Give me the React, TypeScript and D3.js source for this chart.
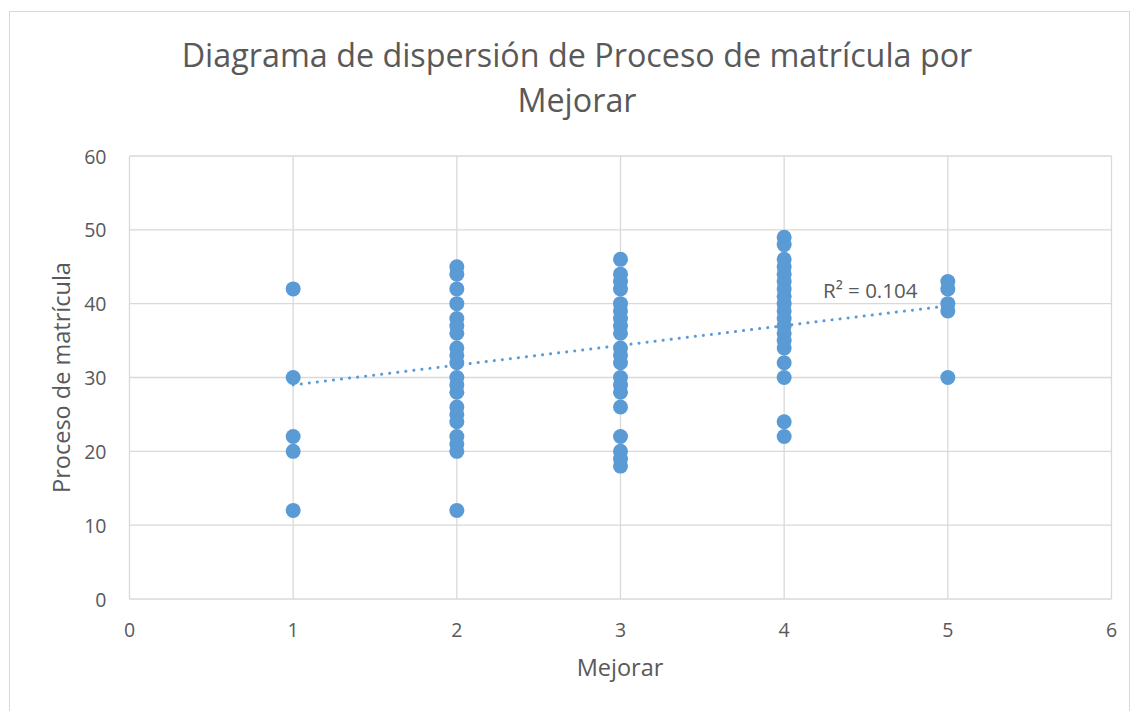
import React from "react";
import * as d3 from "d3";

const xValues = [1, 2, 3, 4, 5];
const series: number[][] = [
  [42, 30, 22, 20, 12],
  [45, 44, 42, 40, 38, 37, 36, 34, 33, 32, 30, 29, 28, 26, 25, 24, 22, 21, 20, 12],
  [46, 44, 43, 42, 40, 39, 38, 37, 36, 34, 33, 32, 30, 29, 28, 26, 22, 20, 19, 18],
  [49, 48, 46, 45, 44, 43, 42, 41, 40, 39, 38, 37, 36, 35, 34, 32, 30, 24, 22],
  [43, 42, 40, 39, 30],
];
const xTicks = [0, 1, 2, 3, 4, 5, 6];
const yTicks = [0, 10, 20, 30, 40, 50, 60];
const trendStart = { x: 1, y: 29.0 };
const trendEnd = { x: 5, y: 39.7 };
const rSquaredLabel = "R² = 0.104";
const titleLines = ["Diagrama de dispersión de Proceso de matrícula por", "Mejorar"];
const xTitle = "Mejorar";
const yTitle = "Proceso de matrícula";

export default function App() {
  const W = 1134, H = 711;
  const x = d3.scaleLinear().domain([0, 6]).range([129.5, 1111.5]);
  const y = d3.scaleLinear().domain([0, 60]).range([599, 156]);
  const color = "#5B9BD5";
  const font = "'Open Sans', sans-serif";
  const points = series.flatMap((vals, i) => vals.map((v) => ({ x: xValues[i], y: v })));
  const line = d3.line<{ x: number; y: number }>().x((d) => x(d.x)).y((d) => y(d.y));
  return (
    <svg width={W} height={H} style={{ position: "absolute", left: 0, top: 0 }} fontFamily={font}>
      <rect x={0} y={0} width={W} height={H} fill="#fff" />
      <rect x={9.5} y={11.5} width={1120} height={710} fill="#fff" stroke="#d9d9d9" strokeWidth={1} />
      {titleLines.map((t, i) => (
        <text key={i} x={577} y={67 + i * 45} textAnchor="middle" fontSize={32.3} fill="#595959">
          {t}
        </text>
      ))}
      {yTicks.map((t) => (
        <line key={"gy" + t} x1={x(0)} x2={x(6)} y1={y(t)} y2={y(t)} stroke="#d9d9d9" strokeWidth={1.3} />
      ))}
      {xTicks.map((t) => (
        <line key={"gx" + t} x1={x(t)} x2={x(t)} y1={y(0)} y2={y(60)} stroke="#d9d9d9" strokeWidth={1.3} />
      ))}
      {yTicks.map((t) => (
        <text key={"ty" + t} x={x(0) - 23} y={y(t) + 7.5} textAnchor="end" fontSize={19.5} fill="#595959">
          {t}
        </text>
      ))}
      {xTicks.map((t) => (
        <text key={"tx" + t} x={x(t)} y={637} textAnchor="middle" fontSize={19.5} fill="#595959">
          {t}
        </text>
      ))}
      <text x={620} y={676} textAnchor="middle" fontSize={23.5} fill="#595959">
        {xTitle}
      </text>
      <text transform={`translate(70,${y(30)}) rotate(-90)`} textAnchor="middle" fontSize={23.5} fill="#595959">
        {yTitle}
      </text>
      {points.map((p, i) => (
        <circle key={i} cx={x(p.x)} cy={y(p.y)} r={7.5} fill={color} />
      ))}
      <path
        d={line([trendStart, trendEnd]) || ""}
        fill="none"
        stroke={color}
        strokeWidth={3}
        strokeDasharray="0.1 8"
        strokeLinecap="round"
      />
      <text x={823} y={298} fontSize={20.5} fill="#595959">
        {rSquaredLabel}
      </text>
    </svg>
  );
}
